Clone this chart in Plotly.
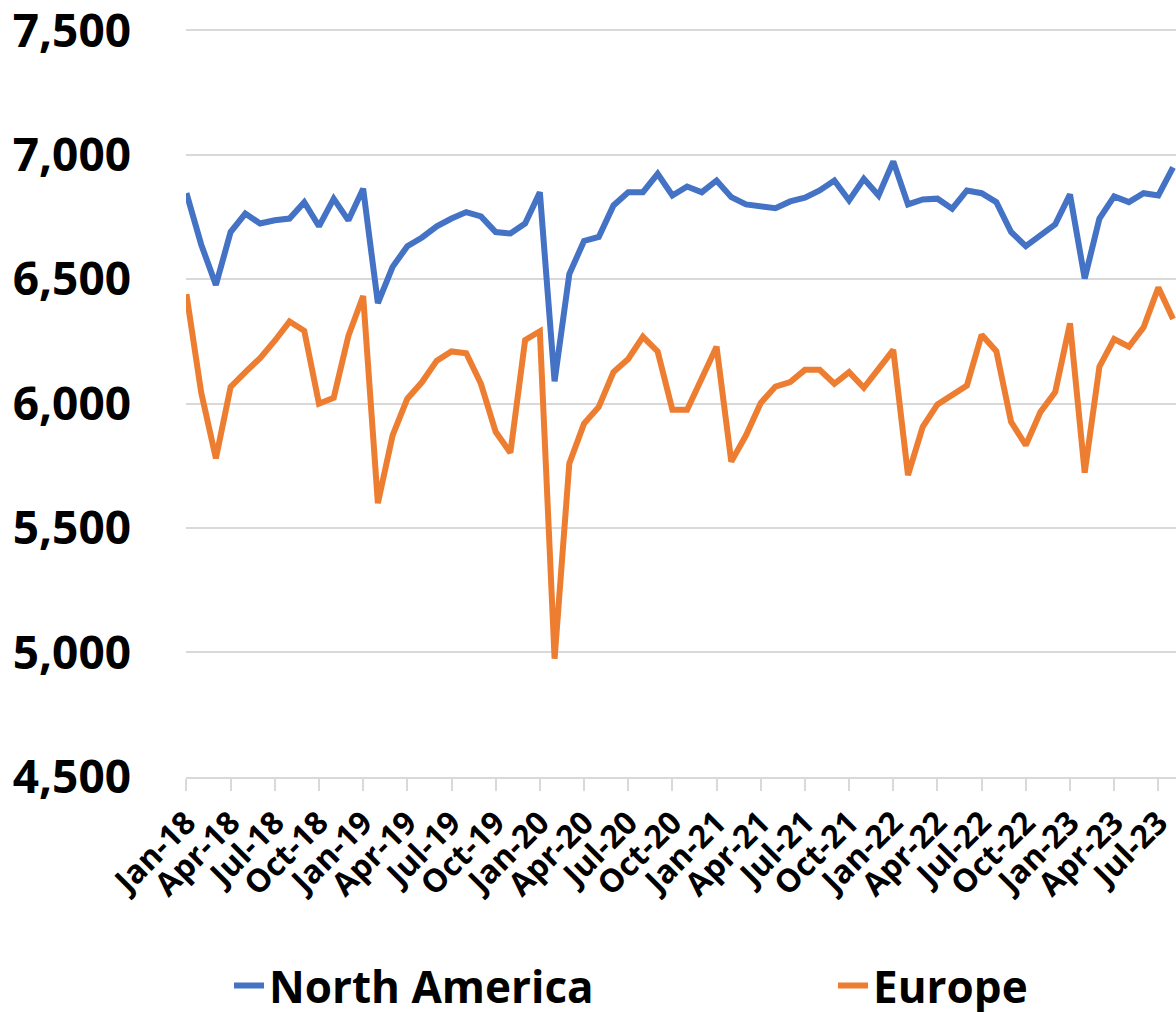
import plotly.graph_objects as go

months = ["Jan", "Feb", "Mar", "Apr", "May", "Jun", "Jul", "Aug", "Sep", "Oct", "Nov", "Dec"]
categories = [f"{m}-{y}" for y in ["18", "19", "20", "21", "22"] for m in months] + \
             [f"{m}-23" for m in months[:8]]

north_america = [
    6846, 6640, 6477, 6690, 6764, 6724, 6737, 6744, 6810, 6713, 6824, 6737,
    6864, 6404, 6550, 6633, 6668, 6713, 6744, 6770, 6753, 6690, 6684, 6724,
    6850, 6090, 6521, 6654, 6670, 6797, 6850, 6850, 6924, 6837, 6873, 6850,
    6897, 6830, 6801, 6794, 6786, 6813, 6828, 6857, 6897, 6817, 6904, 6837,
    6974, 6801, 6821, 6824, 6784, 6857, 6846, 6810, 6690, 6633, 6677, 6721,
    6841, 6503, 6744, 6833, 6810, 6846, 6837, 6950,
]
europe = [
    6440, 6045, 5780, 6067, 6127, 6183, 6253, 6330, 6293, 6000, 6024, 6273,
    6433, 5600, 5873, 6020, 6087, 6173, 6210, 6203, 6080, 5887, 5803, 6256,
    6291, 4975, 5760, 5920, 5987, 6127, 6180, 6269, 6210, 5976, 5976, 6100,
    6229, 5767, 5873, 6003, 6069, 6087, 6136, 6136, 6080, 6127, 6064, 6140,
    6216, 5713, 5907, 5997, 6037, 6073, 6277, 6211, 5927, 5833, 5967, 6047,
    6323, 5723, 6149, 6260, 6229, 6307, 6467, 6340,
]

tick_labels = categories[::3]
y_ticks = [4500, 5000, 5500, 6000, 6500, 7000, 7500]

FONT = "Open Sans"
W, H = 1176, 1012
T, B = 28, 235
plot_h = H - T - B

fig = go.Figure()
fig.add_trace(go.Scatter(x=categories, y=north_america, mode="lines", name="North America",
                         line=dict(color="#4472C4", width=6), legend="legend"))
fig.add_trace(go.Scatter(x=categories, y=europe, mode="lines", name="Europe",
                         line=dict(color="#ED7D31", width=6), legend="legend2"))

legend_font = dict(family=FONT, size=44, weight="bold", color="black")
legend_y = (H - B - 986) / plot_h
fig.update_layout(
    width=W, height=H,
    margin=dict(l=186, r=0, t=T, b=B, autoexpand=False),
    plot_bgcolor="white", paper_bgcolor="white",
    font=dict(family=FONT, color="black"),
    showlegend=True,
    legend=dict(orientation="h", xref="container", yref="paper",
                x=229 / W, y=legend_y, xanchor="left", yanchor="middle",
                font=legend_font, bgcolor="rgba(0,0,0,0)"),
    legend2=dict(orientation="h", xref="container", yref="paper",
                 x=833 / W, y=legend_y, xanchor="left", yanchor="middle",
                 font=legend_font, bgcolor="rgba(0,0,0,0)"),
)
fig.update_xaxes(
    type="category", categoryorder="array", categoryarray=categories,
    range=[-0.03, 67.2],
    tickmode="array", tickvals=tick_labels, ticktext=tick_labels,
    tickangle=-45, tickfont=dict(family=FONT, size=32, weight="bold", color="black"),
    ticks="outside", ticklen=12, tickwidth=2, tickcolor="#d9d9d9",
    showline=True, linecolor="#d9d9d9", linewidth=2,
    showgrid=False, zeroline=False,
)
fig.update_yaxes(
    range=[4499.5, 7510], tickvals=y_ticks, tickformat=",",
    tickfont=dict(family=FONT, size=46, weight="bold", color="black"),
    showgrid=True, gridcolor="#d9d9d9", gridwidth=2,
    showline=False, zeroline=False, ticks="", ticklabelstandoff=54,
    ticklabeloverflow="allow",
)

fig.write_html("out.html", config={"displayModeBar": False},
               post_script="document.body.style.margin='0';document.body.style.overflow='hidden';")
